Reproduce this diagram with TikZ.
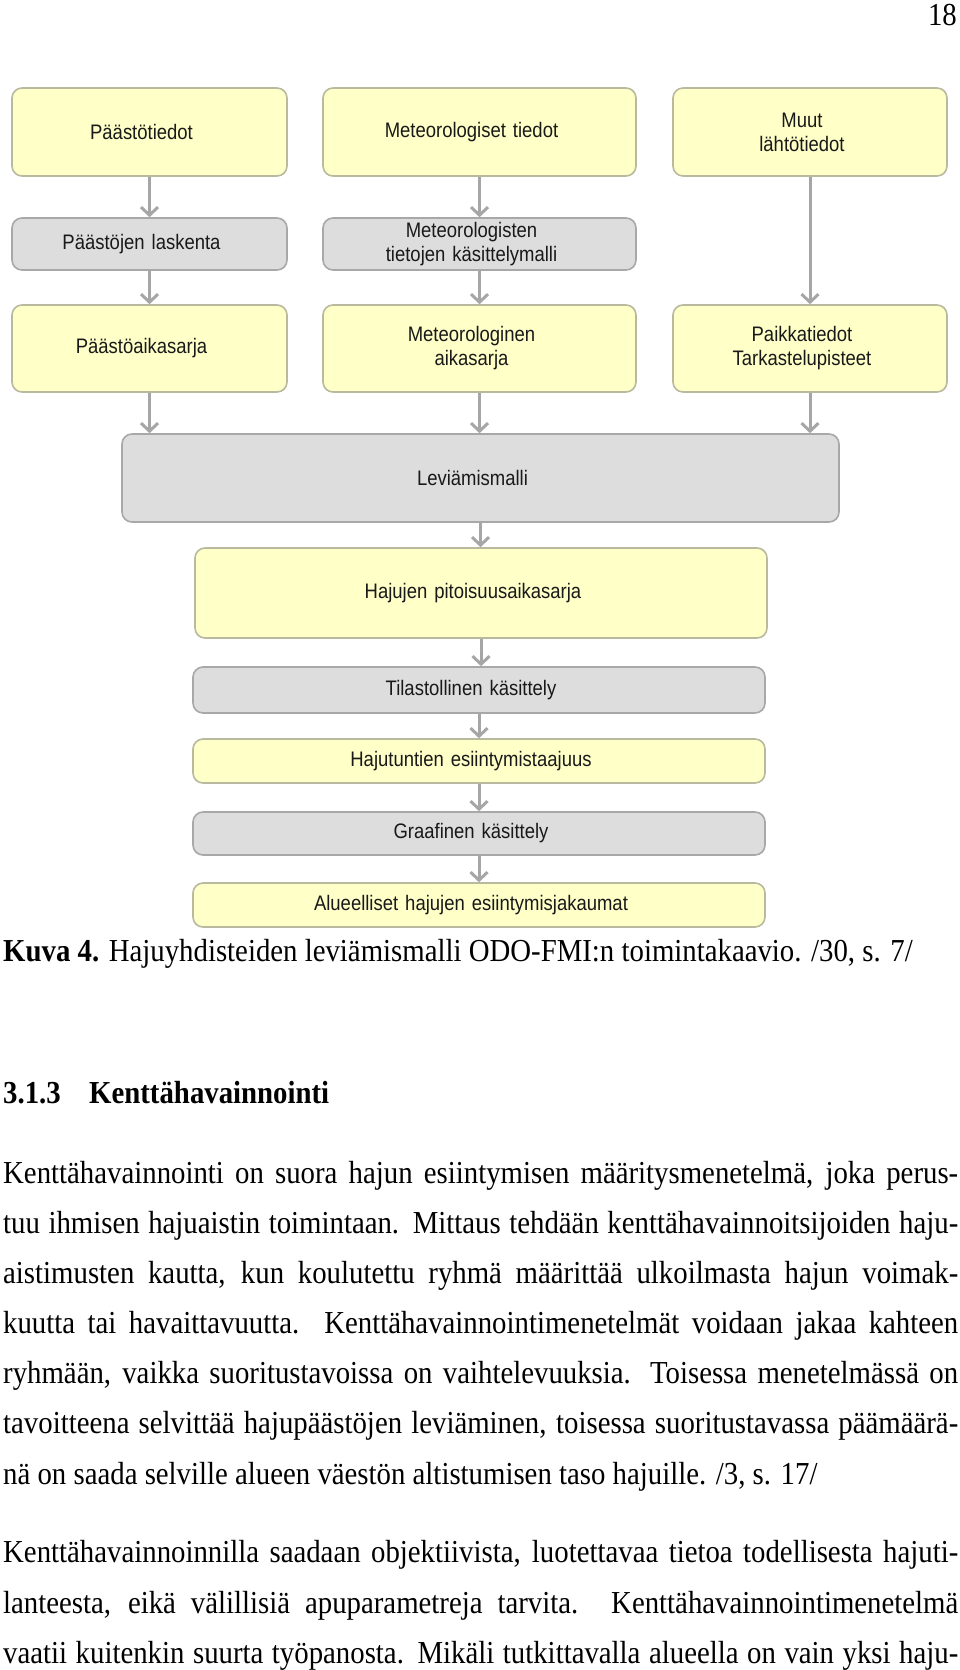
\documentclass[tikz,border=0pt]{standalone}
\usepackage{fontspec}
\setmainfont{Liberation Serif}[FakeStretch=0.9]
\newfontfamily\diagfont{Liberation Sans}[FakeStretch=0.88]
\usepackage{tikz}
\usetikzlibrary{arrows.meta}

\definecolor{boxyellow}{RGB}{255,255,200}
\definecolor{boxgray}{RGB}{221,221,221}
\definecolor{edgeyellow}{RGB}{185,185,160}
\definecolor{edgegray}{RGB}{168,168,168}
\definecolor{arrgray}{RGB}{166,166,166}

\begin{document}
\begin{tikzpicture}[x=1pt, y=-1pt,
  box/.style={draw=edgeyellow, line width=1.6pt, rounded corners=10pt,
              fill=boxyellow, align=center, inner sep=0pt, text=black!90,
              font=\diagfont\fontsize{21}{24}\selectfont,
              execute at begin node={\leftskip=0pt plus 1fil\relax
                \rightskip=16pt plus 1fil\relax\parfillskip=0pt\relax}},
  gbox/.style={box, fill=boxgray, draw=edgegray},
  arr/.style={draw=arrgray, line width=3pt,
              -{Straight Barb[length=8pt, width=17pt]}},
  body/.style={anchor=base west, inner sep=0pt,
               font=\fontsize{32}{50}\selectfont}
]
  \useasboundingbox (0,0) rectangle (960,1670);

  % top row
  \node[box, text width=275pt, minimum height=88pt] (pt) at (149.5,132) {Päästötiedot};
  \node[box, text width=313pt, minimum height=88pt] (mt) at (479.5,132) {Meteorologiset tiedot};
  \node[box, text width=274pt, minimum height=88pt] (mu) at (810,132)   {Muut\\lähtötiedot};
  % processing
  \node[gbox, text width=275pt, minimum height=52pt] (pl) at (149.5,244) {Päästöjen laskenta};
  \node[gbox, text width=313pt, minimum height=52pt] (mk) at (479.5,244) {Meteorologisten\\tietojen käsittelymalli};
  % time series
  \node[box, text width=275pt, minimum height=87pt] (pa) at (149.5,348.5) {Päästöaikasarja};
  \node[box, text width=313pt, minimum height=87pt] (ma) at (479.5,348.5) {Meteorologinen\\aikasarja};
  \node[box, text width=274pt, minimum height=87pt] (pk) at (810,348.5)   {Paikkatiedot\\Tarkastelupisteet};
  % model and results
  \node[gbox, text width=717pt, minimum height=88pt] (lev) at (480.5,478) {Leviämismalli};
  \node[box,  text width=572pt, minimum height=90pt] (haj) at (481,593)   {Hajujen pitoisuusaikasarja};
  \node[gbox, text width=572pt, minimum height=46pt] (til) at (479,690)   {Tilastollinen käsittely};
  \node[box,  text width=572pt, minimum height=44pt] (ht)  at (479,761)   {Hajutuntien esiintymistaajuus};
  \node[gbox, text width=572pt, minimum height=43pt] (gr)  at (479,833.5) {Graafinen käsittely};
  \node[box,  text width=572pt, minimum height=44pt] (al)  at (479,905)   {Alueelliset hajujen esiintymisjakaumat};

  \draw[arr] (pt.south) -- (pl.north);
  \draw[arr] (pl.south) -- (pa.north);
  \draw[arr] (pa.south) -- (pa.south |- lev.north);
  \draw[arr] (mt.south) -- (mk.north);
  \draw[arr] (mk.south) -- (ma.north);
  \draw[arr] (ma.south) -- (ma.south |- lev.north);
  \draw[arr] (mu.south) -- (pk.north);
  \draw[arr] (pk.south) -- (pk.south |- lev.north);
  \draw[arr] (lev.south) -- (lev.south |- haj.north);
  \draw[arr] (haj.south) -- (haj.south |- til.north);
  \draw[arr] (til.south) -- (ht.north);
  \draw[arr] (ht.south) -- (gr.north);
  \draw[arr] (gr.south) -- (al.north);

  % page text
  \node[body, anchor=base east] (sivu) at (957,26) {18};
  \node[body] (kuva) at (3,961) {\textbf{Kuva 4.} Hajuyhdisteiden leviämismalli ODO-FMI:n toimintakaavio. /30, s. 7/};
  \node[body] (otsnro) at (3,1103)  {\textbf{3.1.3}};
  \node[body] (otsikko) at (89,1103) {\textbf{Kenttähavainnointi}};

  \node[body] (r1) at (3,1183) {\makebox[955pt][s]{Kenttähavainnointi on suora hajun esiintymisen määritysmenetelmä, joka perus-}};
  \node[body] (r2) at (3,1233) {\makebox[955pt][s]{tuu ihmisen hajuaistin toimintaan. Mittaus tehdään kenttähavainnoitsijoiden haju-}};
  \node[body] (r3) at (3,1283) {\makebox[955pt][s]{aistimusten kautta, kun koulutettu ryhmä määrittää ulkoilmasta hajun voimak-}};
  \node[body] (r4) at (3,1333) {\makebox[955pt][s]{kuutta tai havaittavuutta.\ \ Kenttähavainnointimenetelmät voidaan jakaa kahteen}};
  \node[body] (r5) at (3,1383) {\makebox[955pt][s]{ryhmään, vaikka suoritustavoissa on vaihtelevuuksia. Toisessa menetelmässä on}};
  \node[body] (r6) at (3,1433) {\makebox[955pt][s]{tavoitteena selvittää hajupäästöjen leviäminen, toisessa suoritustavassa päämäärä-}};
  \node[body] (r7) at (3,1484) {nä on saada selville alueen väestön altistumisen taso hajuille. /3, s. 17/};

  \node[body] (r8)  at (3,1562) {\makebox[955pt][s]{Kenttähavainnoinnilla saadaan objektiivista, luotettavaa tietoa todellisesta hajuti-}};
  \node[body] (r9)  at (3,1613) {\makebox[955pt][s]{lanteesta, eikä välillisiä apuparametreja tarvita. Kenttähavainnointimenetelmä}};
  \node[body] (r10) at (3,1663) {\makebox[955pt][s]{vaatii kuitenkin suurta työpanosta. Mikäli tutkittavalla alueella on vain yksi haju-}};
\end{tikzpicture}
\end{document}
